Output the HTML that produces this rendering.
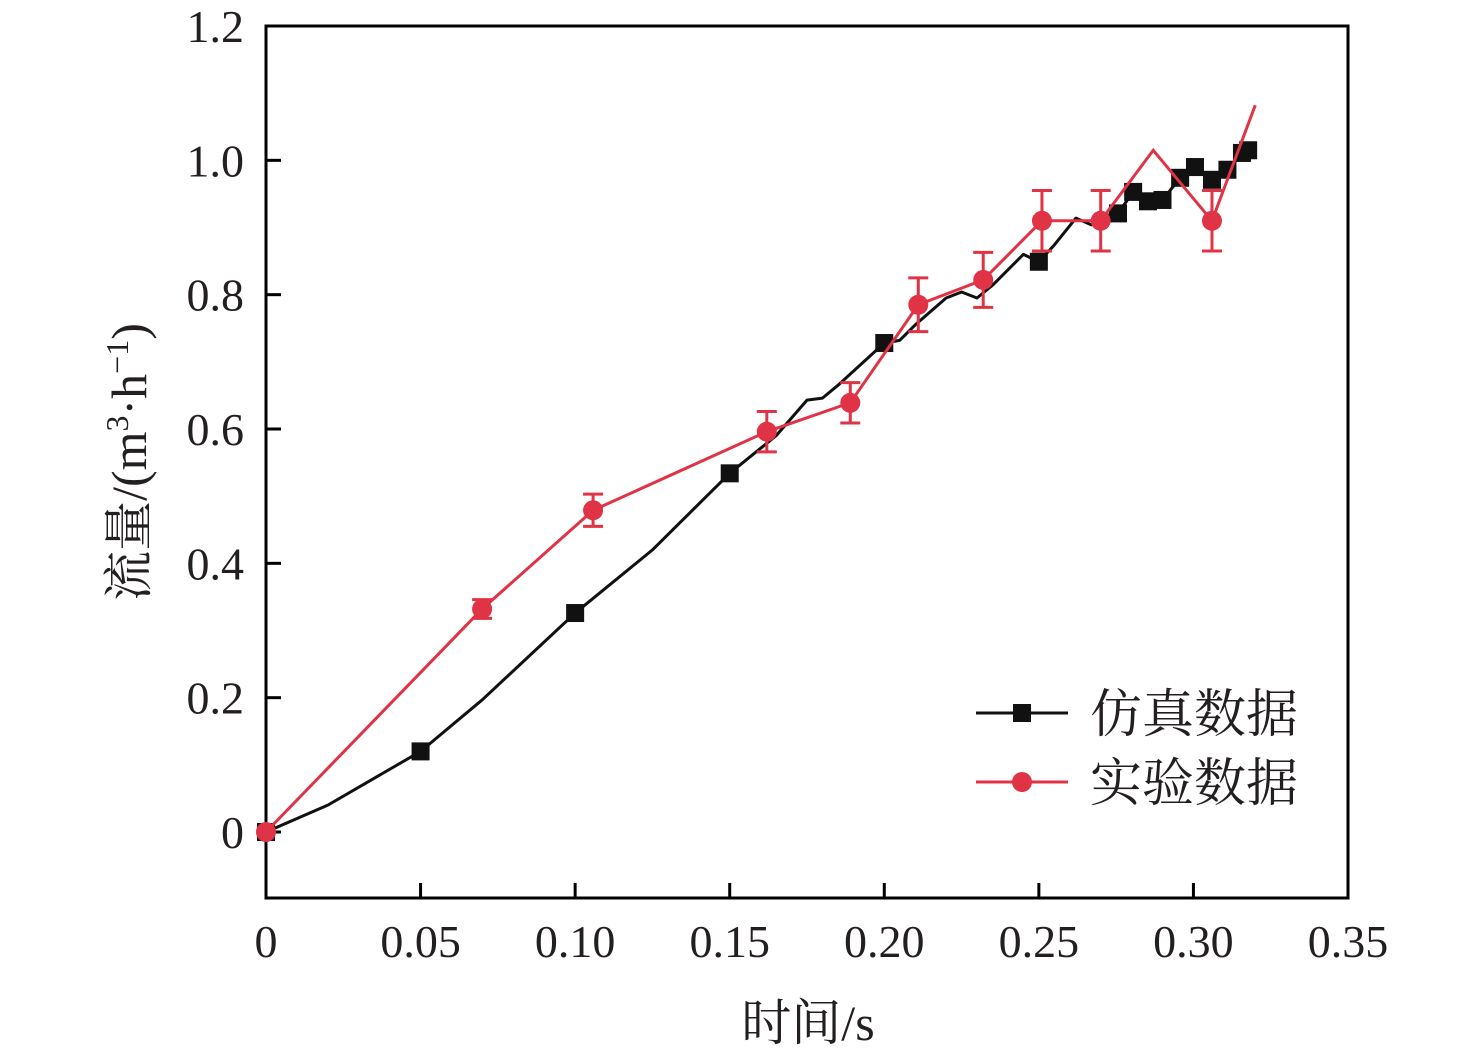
<!DOCTYPE html>
<html><head><meta charset="utf-8"><style>
body{margin:0;background:#fff;}
svg text{font-family:"Liberation Serif","Noto Serif CJK SC",serif;fill:#231f20;}
</style></head><body>
<svg id="chart" width="1476" height="1056" xmlns="http://www.w3.org/2000/svg">
</svg>
<script>
const xTicks=[0,0.05,0.10,0.15,0.20,0.25,0.30,0.35];
const xTickLabels=["0","0.05","0.10","0.15","0.20","0.25","0.30","0.35"];
const yTicks=[0,0.2,0.4,0.6,0.8,1.0,1.2];
const yTickLabels=["0","0.2","0.4","0.6","0.8","1.0","1.2"];
const simLineT=[0,0.02,0.05,0.07,0.1,0.125,0.15,0.165,0.175,0.18,0.185,0.2,0.205,0.21,0.22,0.225,0.23,0.235,0.245,0.25,0.255,0.262,0.267,0.272,0.2756,0.2805,0.2853,0.290,0.2957,0.3005,0.306,0.311,0.3157,0.3177];
const simLineV=[0,0.04,0.12,0.197,0.326,0.42,0.534,0.59,0.643,0.646,0.665,0.728,0.732,0.755,0.795,0.804,0.795,0.814,0.86,0.849,0.874,0.914,0.904,0.918,0.921,0.953,0.939,0.941,0.974,0.990,0.971,0.986,1.011,1.015];
const simMarkT=[0,0.05,0.1,0.15,0.2,0.25,0.2756,0.2805,0.2853,0.290,0.2957,0.3005,0.306,0.311,0.3157,0.3177];
const simMarkV=[0,0.12,0.326,0.534,0.728,0.849,0.921,0.953,0.939,0.941,0.974,0.990,0.971,0.986,1.011,1.015];
const expLineT=[0,0.0699,0.1058,0.162,0.189,0.211,0.232,0.251,0.270,0.287,0.306,0.320];
const expLineV=[0,0.332,0.479,0.596,0.639,0.785,0.822,0.910,0.910,1.015,0.910,1.082];
const expMarkT=[0,0.0699,0.1058,0.162,0.189,0.211,0.232,0.251,0.270,0.306];
const expMarkV=[0,0.332,0.479,0.596,0.639,0.785,0.822,0.910,0.910,0.910];
const expErr=[0,0.014,0.024,0.03,0.03,0.04,0.041,0.045,0.045,0.045];

const NS="http://www.w3.org/2000/svg";
const svg=document.getElementById('chart');
const L=266,R=1348,T=26,B=898;
const xs=t=>L+(t-0)/(0.35)*(R-L);
const ys=v=>832-v/1.2*(832-T);
function mk(tag,at){const e=document.createElementNS(NS,tag);for(const k in at)e.setAttribute(k,at[k]);svg.appendChild(e);return e;}

xTicks.forEach((t,i)=>{
 const l=mk('line',{x1:xs(t),x2:xs(t),y1:B,y2:B-15,stroke:'#000','stroke-width':3});
 
 
 const tx=mk('text',{x:xs(t),y:957,'text-anchor':'middle','font-size':46});
 tx.textContent=xTickLabels[i];
 
 
});
yTicks.forEach((v,i)=>{
 const l=mk('line',{x1:L,x2:L+15,y1:ys(v),y2:ys(v),stroke:'#000','stroke-width':3});
 
 
 const tx=mk('text',{x:244,y:ys(v)+16,'text-anchor':'end','font-size':46});
 tx.textContent=yTickLabels[i];
 
 
});
const frame=mk('rect',{x:L,y:T,width:R-L,height:B-T,fill:'none',stroke:'#000','stroke-width':3});



const sim=mk('polyline',{points:simLineT.map((t,i)=>xs(t)+','+ys(simLineV[i])).join(' '),fill:'none',stroke:'#111','stroke-width':3,'stroke-linejoin':'round'});


simMarkT.forEach((t,i)=>{
 const r=mk('rect',{x:xs(t)-9,y:ys(simMarkV[i])-9,width:18,height:18,fill:'#111'});
 
 
});
const exp=mk('polyline',{points:expLineT.map((t,i)=>xs(t)+','+ys(expLineV[i])).join(' '),fill:'none',stroke:'#e03346','stroke-width':3});


expMarkT.forEach((t,i)=>{
 const x=xs(t),e=expErr[i];
 if(e>0){
  const g=mk('path',{d:`M${x},${ys(expMarkV[i]+e)}V${ys(expMarkV[i]-e)}M${x-10},${ys(expMarkV[i]+e)}h20M${x-10},${ys(expMarkV[i]-e)}h20`,stroke:'#e03346','stroke-width':3,fill:'none'});
  
  
 }
 const c=mk('circle',{cx:x,cy:ys(expMarkV[i]),r:10,fill:'#e03346'});
 
 
});

const l1=mk('line',{x1:976,x2:1068,y1:713,y2:713,stroke:'#111','stroke-width':3});


const s1=mk('rect',{x:1013,y:704,width:18,height:18,fill:'#111'});


const t1=mk('text',{x:1090,y:732,'font-size':52});t1.textContent='仿真数据';


const l2=mk('line',{x1:976,x2:1068,y1:782,y2:782,stroke:'#e03346','stroke-width':3});


const c2=mk('circle',{cx:1022,cy:782,r:10,fill:'#e03346'});


const t2=mk('text',{x:1090,y:801,'font-size':52});t2.textContent='实验数据';



const xt=mk('text',{x:808,y:1040,'text-anchor':'middle','font-size':50});xt.textContent='时间/s';


const yt=mk('text',{x:0,y:0,'text-anchor':'middle','font-size':50,transform:'translate(146,462) rotate(-90)'});
yt.innerHTML='流量/(m<tspan font-size="32" dy="-18">3</tspan><tspan dy="18">·h</tspan><tspan font-size="32" dy="-18">−1</tspan><tspan dy="18">)</tspan>';


</script>
</body></html>
